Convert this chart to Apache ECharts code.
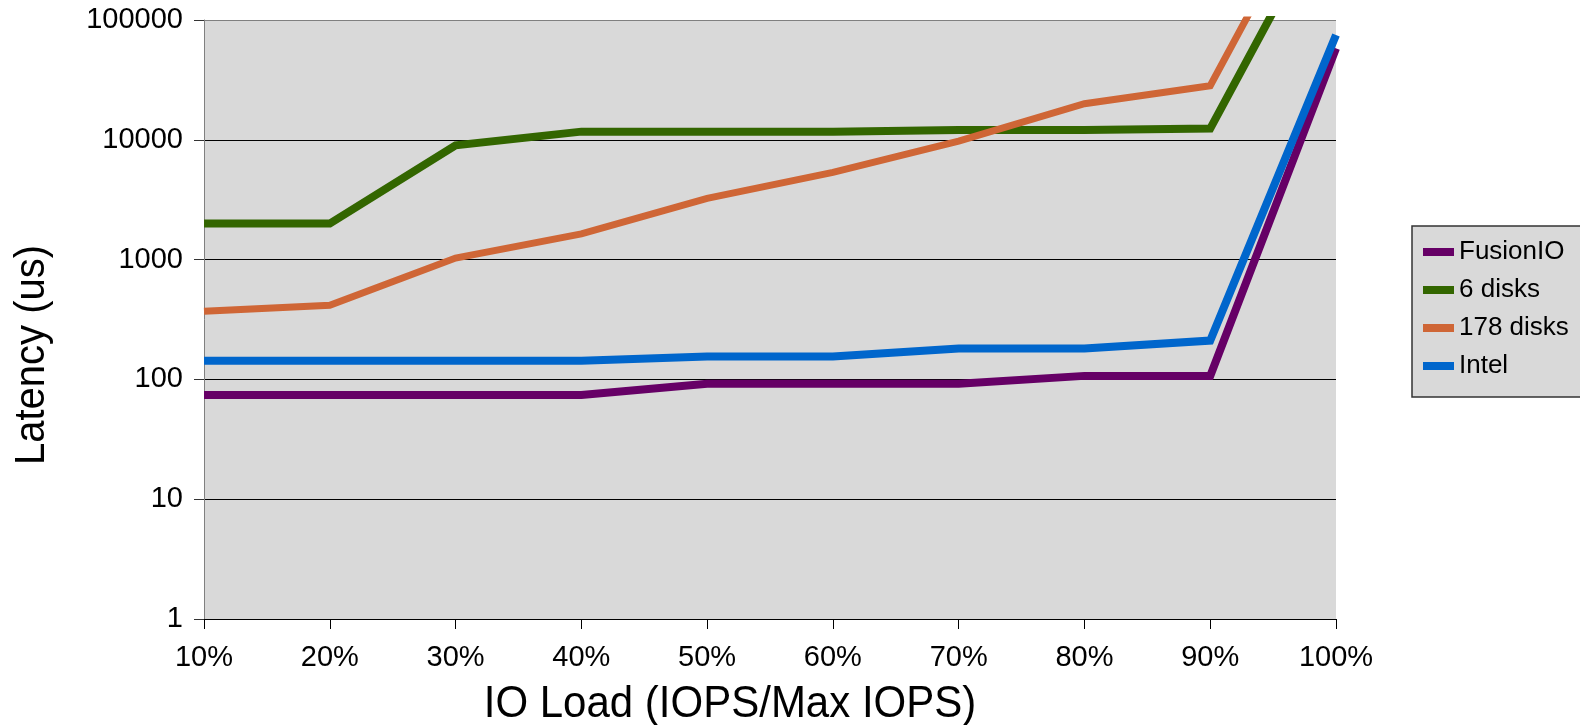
<!DOCTYPE html>
<html>
<head>
<meta charset="utf-8">
<script src="https://cdn.jsdelivr.net/npm/echarts@6/dist/echarts.min.js"></script>
<style>
  html, body { margin: 0; padding: 0; background: #ffffff; }
  #chart { width: 1580px; height: 725px; }
</style>
</head>
<body>
<div id="chart"></div>
<script>
// IO load in percent (x positions of the points)
var loads = [10, 20, 30, 40, 50, 60, 70, 80, 90, 100];
// Latency in microseconds (values above 100000 are clipped at the top of the plot)
var fusionIO = [74, 74, 74, 74, 92, 92, 92, 107, 107, 58000];
var sixDisks = [2000, 2000, 9000, 11700, 11700, 11700, 12100, 12100, 12400, 1100000];
var disks178 = [370, 415, 1030, 1640, 3240, 5350, 9750, 20000, 28300, 2500000];
var intel = [143, 143, 143, 143, 155, 155, 181, 181, 211, 75000];
var seriesNames = ['FusionIO', '6 disks', '178 disks', 'Intel'];
var yTicks = [1, 10, 100, 1000, 10000, 100000];

var FONT = '"Liberation Sans", Arial, sans-serif';

function pairs(vals) {
  return loads.map(function (x, i) { return [x, vals[i]]; });
}

var colors = ['#660066', '#336600', '#cf6636', '#0066cc'];
var allData = [fusionIO, sixDisks, disks178, intel];
var widths = [8, 8, 7, 8];

var chart = echarts.init(document.getElementById('chart'), null, { renderer: 'canvas' });
chart.setOption({
  animation: false,
  backgroundColor: '#ffffff',
  grid: {
    left: 204, right: 244, top: 20, bottom: 106,
    show: true, backgroundColor: '#d9d9d9', borderWidth: 0
  },
  xAxis: {
    type: 'value', min: 10, max: 100, interval: 10,
    axisLine: { show: true, onZero: false, lineStyle: { color: '#000', width: 1 } },
    axisTick: { show: true, inside: false, length: 10, lineStyle: { color: '#000' } },
    axisLabel: { margin: 24, fontSize: 29, fontFamily: FONT, color: '#000', formatter: '{value}%' },
    splitLine: { show: false }
  },
  yAxis: {
    type: 'log', logBase: 10, min: yTicks[0], max: yTicks[yTicks.length - 1],
    axisLine: { show: true, lineStyle: { color: '#808080', width: 1 } },
    axisTick: { show: true, inside: false, length: 10, lineStyle: { color: '#333' } },
    axisLabel: {
      margin: 21, fontSize: 29, fontFamily: FONT, color: '#000',
      formatter: function (v) { return String(Math.round(v)); }
    },
    splitLine: { show: true, lineStyle: { color: ['#000', '#000', '#000', '#000', '#000', '#808080'], width: 1 } },
    minorTick: { show: false }
  },
  legend: {
    orient: 'vertical',
    left: 1412, top: 226,
    padding: [13, 14, 18, 11],
    itemWidth: 31, itemHeight: 8, itemGap: 12,
    backgroundColor: '#d9d9d9',
    borderColor: '#333', borderWidth: 1.5,
    icon: 'rect',
    textStyle: { fontSize: 26, fontFamily: FONT, color: '#000', lineHeight: 26 },
    data: seriesNames
  },
  graphic: [
    {
      type: 'text', x: 730, y: 705, scaleY: 1.06,
      style: { text: 'IO Load (IOPS/Max IOPS)', font: '42px ' + FONT, fill: '#000', align: 'center', verticalAlign: 'middle' }
    },
    {
      type: 'text', x: 32, y: 355, rotation: Math.PI / 2, scaleY: 1.06,
      style: { text: 'Latency (us)', font: '40px ' + FONT, fill: '#000', align: 'center', verticalAlign: 'middle' }
    }
  ],
  series: seriesNames.map(function (name, i) {
    return {
      name: name,
      type: 'line',
      data: pairs(allData[i]),
      showSymbol: false,
      symbol: 'none',
      clip: true,
      lineStyle: { color: colors[i], width: widths[i], join: 'miter' },
      itemStyle: { color: colors[i] }
    };
  })
});
</script>
</body>
</html>
